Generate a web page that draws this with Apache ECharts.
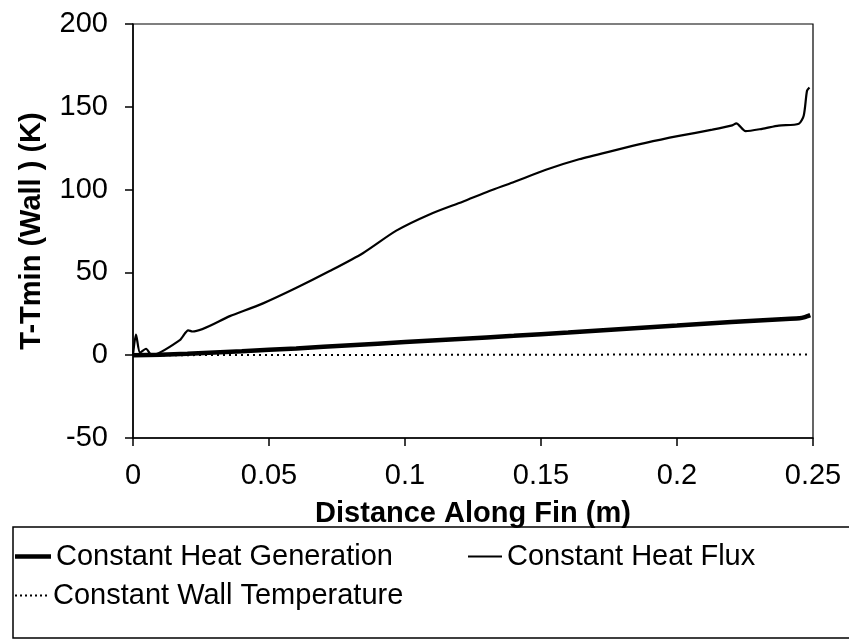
<!DOCTYPE html>
<html>
<head>
<meta charset="utf-8">
<script src="https://cdn.jsdelivr.net/npm/echarts@6/dist/echarts.min.js"></script>
<style>
html,body{margin:0;padding:0;background:#fff;}
#chart{width:849px;height:641px;}
</style>
</head>
<body>
<div id="chart"></div>
<script>
// ---- data ----
const xTicks = [0, 0.05, 0.1, 0.15, 0.2, 0.25];
const yTicks = [-50, 0, 50, 100, 150, 200];

const fluxX = [0, 0.0011, 0.0026, 0.0048, 0.0069, 0.0172, 0.0203, 0.0219, 0.0356, 0.0478, 0.0601, 0.0723, 0.0845, 0.0968, 0.109, 0.1212, 0.131, 0.1396, 0.1518, 0.164, 0.1763, 0.1885, 0.2007, 0.213, 0.2203, 0.2218, 0.2252, 0.2313, 0.2374, 0.2448, 0.2466, 0.2478, 0.2487];
const fluxY = [0, 12.5, 1.5, 3.9, 0, 9.1, 15, 14.3, 23.6, 31.3, 40.7, 50.8, 61.6, 75.2, 85.0, 92.7, 99.1, 104.3, 112, 118.3, 123.4, 128.2, 132.4, 136.2, 138.8, 140, 135.3, 136.7, 138.6, 139.8, 144.8, 159.7, 161.7];

const genX = [0, 0.01, 0.02, 0.04, 0.06, 0.08, 0.1, 0.12, 0.14, 0.16, 0.18, 0.2, 0.22, 0.24, 0.245, 0.247, 0.249];
const genY = [0, 0.3, 0.9, 2.4, 4.1, 6.0, 7.9, 9.8, 11.7, 13.7, 15.8, 17.9, 20.0, 21.9, 22.3, 23.0, 24.2];

const wallX = [0, 0.05, 0.1, 0.15, 0.2, 0.249];
const wallY = [0, 0.1, 0.2, 0.3, 0.4, 0.5];

const seriesNames = ['Constant Heat Generation', 'Constant Heat Flux', 'Constant Wall Temperature'];
const xTitle = 'Distance Along Fin (m)';
const yTitle = 'T-Tmin (Wall ) (K)';

function pairs(xs, ys) { return xs.map((x, i) => [x, ys[i]]); }

const FONT = 'Liberation Sans, Arial, Helvetica, sans-serif';
const chart = echarts.init(document.getElementById('chart'), null, {renderer: 'canvas'});

const legendText = {fontFamily: FONT, fontSize: 29, color: '#000'};
const dotsIcon = 'path://M0,0h2v2h-2zM5,0h2v2h-2zM10,0h2v2h-2zM15,0h2v2h-2zM20,0h2v2h-2zM25,0h2v2h-2zM30,0h2v2h-2z';

chart.setOption({
  animation: false,
  backgroundColor: '#fff',
  grid: {left: 133, right: 36, top: 24, bottom: 203, show: true, borderColor: '#000', borderWidth: 1.2, containLabel: false},
  xAxis: {
    type: 'value', min: xTicks[0], max: xTicks[xTicks.length - 1], interval: 0.05,
    name: xTitle, nameLocation: 'middle', nameGap: 61,
    nameTextStyle: {fontFamily: FONT, fontSize: 29, fontWeight: 'bold', color: '#000'},
    axisLine: {show: true, onZero: false, lineStyle: {color: '#000', width: 1.5}},
    axisTick: {show: true, inside: false, length: 8, lineStyle: {color: '#000', width: 1.5}},
    axisLabel: {fontFamily: FONT, fontSize: 29, color: '#000', margin: 23},
    splitLine: {show: false}
  },
  yAxis: {
    type: 'value', min: yTicks[0], max: yTicks[yTicks.length - 1], interval: 50,
    name: yTitle, nameLocation: 'middle', nameGap: 87, nameRotate: 90,
    nameTextStyle: {fontFamily: FONT, fontSize: 29, fontWeight: 'bold', color: '#000'},
    axisLine: {show: true, onZero: false, lineStyle: {color: '#000', width: 1.5}},
    axisTick: {show: true, inside: false, length: 8, lineStyle: {color: '#000', width: 1.5}},
    axisLabel: {fontFamily: FONT, fontSize: 29, color: '#000', margin: 25},
    splitLine: {show: false}
  },
  legend: [
    {data: [{name: seriesNames[0], icon: 'rect'}], left: 15, top: 542, padding: 0,
     itemWidth: 36, itemHeight: 4.5, textStyle: legendText},
    {data: [{name: seriesNames[1], icon: 'rect'}], left: 468, top: 542, padding: 0,
     itemWidth: 34, itemHeight: 2, textStyle: legendText},
    {data: [{name: seriesNames[2], icon: dotsIcon}], left: 15, top: 581, padding: 0,
     itemWidth: 34, itemHeight: 2, textStyle: legendText}
  ],
  graphic: [
    {type: 'rect', shape: {x: 13, y: 527, width: 850, height: 111}, style: {fill: 'none', stroke: '#000', lineWidth: 1.5}, silent: true}
  ],
  series: [
    {name: seriesNames[0], type: 'line', data: pairs(genX, genY), showSymbol: false, symbol: 'none', smooth: 0.2,
     lineStyle: {color: '#000', width: 4.5}, itemStyle: {color: '#000'}},
    {name: seriesNames[1], type: 'line', data: pairs(fluxX, fluxY), showSymbol: false, symbol: 'none', smooth: 0.25,
     lineStyle: {color: '#000', width: 2.2}, itemStyle: {color: '#000'}},
    {name: seriesNames[2], type: 'line', data: pairs(wallX, wallY), showSymbol: false, symbol: 'none',
     lineStyle: {color: '#000', width: 2, type: [2, 4]}, itemStyle: {color: '#000'}}
  ]
});
</script>
</body>
</html>
